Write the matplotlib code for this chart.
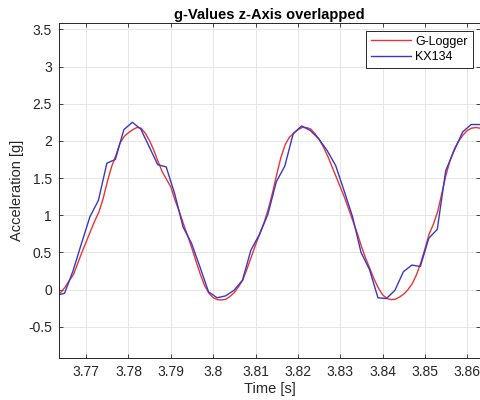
import matplotlib.pyplot as plt
import numpy as np

plt.rcParams['font.family'] = ['Liberation Sans', 'DejaVu Sans']

# G-Logger, sampled every 1 ms
t_red0 = 3.763
dt_red = 0.001
g_red = [-0.07, -0.04, 0.03, 0.12, 0.20, 0.35, 0.50, 0.64, 0.78, 0.92,
         1.04, 1.22, 1.45, 1.65, 1.80, 1.97, 2.06, 2.11, 2.15, 2.18,
         2.17, 2.10, 2.00, 1.87, 1.72, 1.58, 1.48, 1.38, 1.20, 1.05,
         0.88, 0.72, 0.55, 0.37, 0.20, 0.05, -0.05, -0.11, -0.135, -0.14,
         -0.13, -0.09, -0.04, 0.04, 0.13, 0.28, 0.44, 0.60, 0.75, 0.90,
         1.08, 1.30, 1.55, 1.78, 1.95, 2.05, 2.10, 2.15, 2.18, 2.18,
         2.16, 2.10, 2.02, 1.92, 1.80, 1.66, 1.52, 1.38, 1.24, 1.08,
         0.92, 0.76, 0.58, 0.42, 0.28, 0.14, 0.02, -0.07, -0.12, -0.135,
         -0.13, -0.10, -0.06, 0.00, 0.08, 0.20, 0.36, 0.55, 0.75, 0.88,
         1.05, 1.30, 1.55, 1.75, 1.90, 2.00, 2.08, 2.14, 2.17, 2.18, 2.17]

# KX134, sampled every 2 ms
t_blue0 = 3.7629
dt_blue = 0.002
g_blue = [-0.08, -0.05, 0.25, 0.62, 0.98, 1.20, 1.70, 1.75, 2.15, 2.25,
          2.16, 1.92, 1.68, 1.65, 1.29, 0.84, 0.62, 0.30, -0.03, -0.11,
          -0.085, -0.01, 0.125, 0.53, 0.74, 1.01, 1.45, 1.66, 2.10, 2.20,
          2.14, 2.03, 1.87, 1.67, 1.33, 0.98, 0.50, 0.27, -0.11, -0.12,
          -0.01, 0.24, 0.33, 0.31, 0.69, 0.81, 1.60, 1.87, 2.12, 2.22, 2.22]

t_red = t_red0 + dt_red*np.arange(len(g_red))
t_blue = t_blue0 + dt_blue*np.arange(len(g_blue))

xticks = [3.77, 3.78, 3.79, 3.8, 3.81, 3.82, 3.83, 3.84, 3.85, 3.86]
xticklabels = ['3.77', '3.78', '3.79', '3.8', '3.81', '3.82', '3.83', '3.84', '3.85', '3.86']
yticks = [-0.5, 0, 0.5, 1, 1.5, 2, 2.5, 3, 3.5]
yticklabels = ['-0.5', '0', '0.5', '1', '1.5', '2', '2.5', '3', '3.5']

axcol = '#262626'
fig = plt.figure(figsize=(4.81, 4.0), dpi=100)
ax = fig.add_axes([0.1227, 0.105, 0.8753, 0.8375])
ax.plot(t_red, g_red, color='#e83535', linewidth=1.0, label='G-Logger')
ax.plot(t_blue, g_blue, color='#3838c8', linewidth=1.0, label='KX134')

ax.set_xlim(3.7636, 3.863)
ax.set_ylim(-0.92, 3.585)
ax.set_xticks(xticks)
ax.set_xticklabels(xticklabels)
ax.set_yticks(yticks)
ax.set_yticklabels(yticklabels)
ax.grid(True, color='#e6e6e6', linewidth=0.7)
ax.set_axisbelow(True)
ax.tick_params(direction='in', top=True, right=True, length=3, width=0.6,
               colors=axcol, labelsize=10, pad=5)
for s in ax.spines.values():
    s.set_color(axcol)
    s.set_linewidth(0.7)

ax.set_title('g-Values z-Axis overlapped', fontsize=10.5, fontweight='bold', color='black', pad=3)
ax.set_xlabel('Time [s]', fontsize=10.5, color=axcol, labelpad=2)
ax.set_ylabel('Acceleration [g]', fontsize=10.5, color=axcol, labelpad=3)

leg = ax.legend(loc='upper right', fontsize=9, handlelength=3.2, handletextpad=0.3,
                borderpad=0.4, labelspacing=0.3, fancybox=False, framealpha=1,
                borderaxespad=0.6)
leg.get_frame().set_edgecolor(axcol)
leg.get_frame().set_linewidth(0.7)

fig.savefig('out.png', dpi=100)
